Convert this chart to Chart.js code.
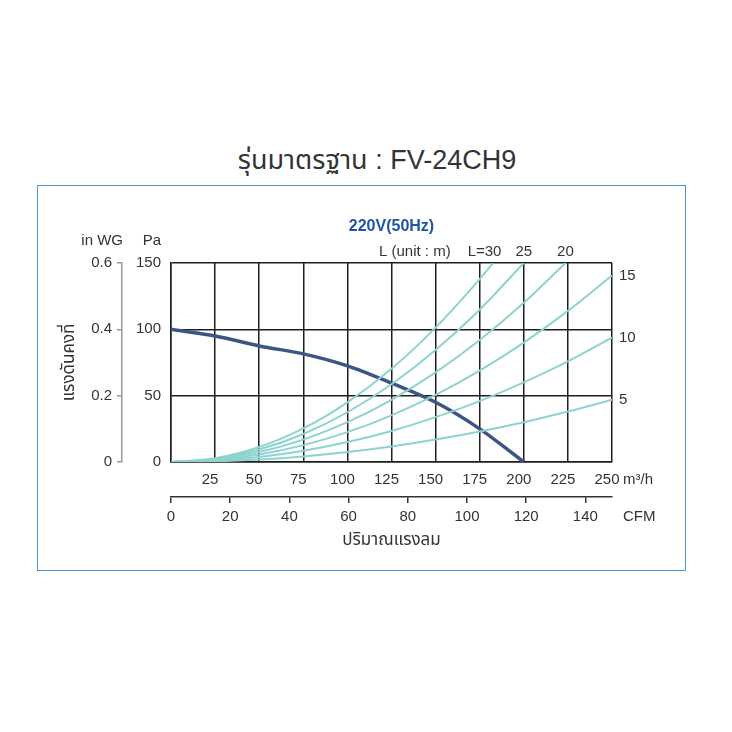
<!DOCTYPE html>
<html lang="th">
<head>
<meta charset="utf-8">
<title>FV-24CH9</title>
<script src="https://cdn.jsdelivr.net/npm/chart.js@4.4.1/dist/chart.umd.min.js"></script>
<style>
  body { margin: 0; background: #fff; font-family: 'Liberation Sans', 'Noto Sans Thai', 'Noto Sans Thai UI', 'Noto Sans', sans-serif; }
  #page { position: relative; width: 732px; height: 732px; }
  .title { position: absolute; left: 0; width: 754px; top: 140px; text-align: center; font-size: 27px; color: #333; }
  .frame { position: absolute; left: 37px; top: 185px; width: 649px; height: 386px; border: 1.5px solid #4a95d8; box-sizing: border-box; }
  canvas { position: absolute; left: 0; top: 0; }
</style>
</head>
<body>
<div id="page">
  <div class="title">รุ่นมาตรฐาน : FV-24CH9</div>
  <div class="frame"></div>
  <canvas id="fanChart" width="732" height="732"></canvas>
</div>
<script>
// Airflow in m3/h, one point every 25
const flow = [0, 25, 50, 75, 100, 125, 150, 175, 200, 225, 250];

// Fan curve (Pa), read from 0 to 200 m3/h
const fanPressure = [100, 95, 87.5, 81.5, 72.5, 59.5, 45, 25, 0];

// Duct resistance curves (Pa) for duct length L in metres
const ductL5 = [0, 0.5, 1.9, 4.2, 7.5, 11.7, 16.9, 23.0, 30.0, 38.0, 46.9];
const ductL10 = [0, 0.9, 3.8, 8.4, 15.0, 23.4, 33.8, 45.9, 60.0, 75.9, 93.8];
const ductL15 = [0, 1.4, 5.6, 12.7, 22.5, 35.2, 50.6, 68.9, 90.0, 113.9, 140.6];
const ductL20 = [0, 1.9, 7.5, 16.9, 30.0, 46.9, 67.5, 91.9, 120.0];
const ductL25 = [0, 2.3, 9.4, 21.1, 37.5, 58.6, 84.4, 114.8];
const ductL30 = [0, 2.8, 11.3, 25.3, 45.0, 70.3, 101.3, 137.8];
// flow where the L=20 / 25 / 30 curves leave the top of the grid (150 Pa)
const ductTopExit = [223.6, 200, 182.6];

const ductLengths = [5, 10, 15, 20, 25, 30];

const FONT = "'Liberation Sans', 'Noto Sans Thai', 'Noto Sans Thai UI', 'Noto Sans', sans-serif";
const TEXT = '#333';
const GRID = '#1e1e1e';
const DUCT_COLOR = '#8dd3cf';
const FAN_COLOR = '#3d5585';

function toPoints(values, exitFlow) {
  const pts = values.map((v, i) => ({ x: flow[i], y: v }));
  if (exitFlow !== undefined) pts.push({ x: exitFlow, y: 150 });
  return pts;
}

const ductSeries = [
  toPoints(ductL5),
  toPoints(ductL10),
  toPoints(ductL15),
  toPoints(ductL20, ductTopExit[0]),
  toPoints(ductL25, ductTopExit[1]),
  toPoints(ductL30, ductTopExit[2])
];

const datasets = ductSeries.map((pts, i) => ({
  label: 'L=' + ductLengths[i],
  data: pts,
  borderColor: DUCT_COLOR,
  borderWidth: 2,
  pointRadius: 0,
  cubicInterpolationMode: 'monotone'
}));

datasets.push({
  label: 'fan',
  data: toPoints(fanPressure),
  borderColor: FAN_COLOR,
  borderWidth: 3.5,
  pointRadius: 0,
  cubicInterpolationMode: 'monotone'
});

// Texts that sit around the grid: headers, units, duct length labels
const chartNotes = {
  id: 'chartNotes',
  afterDraw(chart) {
    const ctx = chart.ctx;
    const area = chart.chartArea;
    const y2 = chart.scales.y2;
    const x2 = chart.scales.x2;
    ctx.save();
    ctx.fillStyle = TEXT;
    ctx.textBaseline = 'middle';

    ctx.font = '15px ' + FONT;
    ctx.textAlign = 'right';
    ctx.fillText('in WG', y2.right + 1, area.top - 22);
    ctx.fillText('Pa', area.left - 10, area.top - 22);

    ctx.textAlign = 'left';
    ctx.fillText('m³/h', area.right + 11, area.bottom + 18);
    ctx.fillText('CFM', area.right + 11, x2.top + 20);

    ctx.font = 'bold 16px ' + FONT;
    ctx.fillStyle = '#1f55a6';
    ctx.textAlign = 'center';
    ctx.fillText('220V(50Hz)', (area.left + area.right) / 2, area.top - 36);

    // duct length labels at the end of each curve
    ctx.fillStyle = TEXT;
    ctx.font = '15px ' + FONT;
    let leftMost = null;
    for (let i = 0; i < ductLengths.length; i++) {
      const pts = chart.getDatasetMeta(i).data;
      const last = pts[pts.length - 1];
      const txt = String(ductLengths[i]);
      if (ductSeries[i][ductSeries[i].length - 1].y >= 150) {
        const w = ctx.measureText(txt).width;
        if (i === ductLengths.length - 1) {
          ctx.textAlign = 'right';
          const full = 'L=' + txt;
          ctx.fillText(full, last.x + w / 2, area.top - 11);
          leftMost = last.x + w / 2 - ctx.measureText(full).width;
        } else {
          ctx.textAlign = 'center';
          ctx.fillText(txt, last.x, area.top - 11);
        }
      } else {
        ctx.textAlign = 'left';
        ctx.fillText(txt, area.right + 7, last.y);
      }
    }
    ctx.textAlign = 'right';
    ctx.fillText('L (unit : m)', leftMost - 17, area.top - 11);
    ctx.restore();
  }
};

const tickFont = { family: FONT, size: 15 };

new Chart(document.getElementById('fanChart'), {
  type: 'line',
  data: { datasets: datasets },
  plugins: [chartNotes],
  options: {
    responsive: false,
    animation: false,
    layout: { padding: { left: 55, top: 263, right: 120, bottom: 181 } },
    plugins: { legend: { display: false }, tooltip: { enabled: false } },
    scales: {
      x: {
        type: 'linear',
        position: 'bottom',
        min: 0,
        max: 250,
        weight: 0,
        afterFit: (s) => { s.height = 35; },
        grid: { color: GRID, lineWidth: 1.5, drawTicks: false },
        border: { color: GRID, width: 1.5 },
        ticks: {
          stepSize: 25,
          autoSkip: false,
          maxRotation: 0,
          padding: 9,
          labelOffset: -5,
          color: TEXT,
          font: tickFont,
          callback: (v) => (v === 0 ? '' : v)
        }
      },
      x2: {
        type: 'linear',
        position: 'bottom',
        min: 0,
        max: 149,
        weight: 1,
        afterFit: (s) => { s.height = 54; },
        grid: { drawOnChartArea: false, color: '#333', lineWidth: 1.5, tickLength: 6 },
        border: { color: '#333', width: 1.5 },
        ticks: {
          stepSize: 20,
          includeBounds: false,
          autoSkip: false,
          maxRotation: 0,
          padding: 5,
          color: TEXT,
          font: tickFont
        },
        title: {
          display: true,
          text: 'ปริมาณแรงลม',
          color: TEXT,
          font: { family: FONT, size: 17 },
          padding: { top: 2, bottom: 0 }
        }
      },
      y: {
        type: 'linear',
        position: 'left',
        min: 0,
        max: 150,
        weight: 0,
        afterFit: (s) => { s.width = 49; },
        grid: { color: GRID, lineWidth: 1.5, drawTicks: false },
        border: { color: GRID, width: 1.5 },
        ticks: { stepSize: 50, padding: 10, color: TEXT, font: tickFont }
      },
      y2: {
        type: 'linear',
        position: 'left',
        min: 0,
        max: 0.6,
        weight: 1,
        afterFit: (s) => { s.width = 67; },
        grid: { drawOnChartArea: false, color: '#999', lineWidth: 1.5, tickLength: 5 },
        border: { color: '#999', width: 1.5 },
        ticks: { stepSize: 0.2, padding: 5, color: TEXT, font: tickFont },
        title: {
          display: true,
          text: 'แรงดันคงที่',
          color: TEXT,
          font: { family: FONT, size: 17 },
          padding: { top: 4, bottom: 0 }
        }
      }
    }
  }
});
</script>
</body>
</html>
